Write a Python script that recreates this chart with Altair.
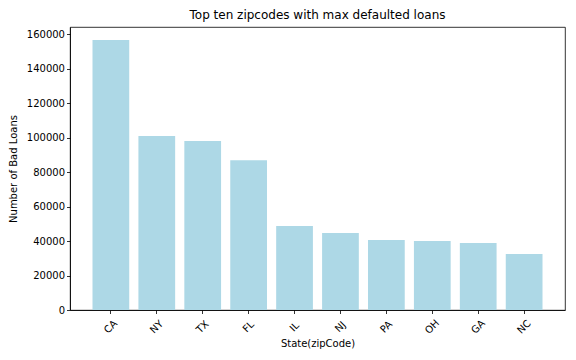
import altair as alt
import pandas as pd

states = ["CA", "NY", "TX", "FL", "IL", "NJ", "PA", "OH", "GA", "NC"]
bad_loans = [156700, 101000, 98100, 87000, 48700, 44700, 40600, 40000, 38900, 32500]
y_ticks = [0, 20000, 40000, 60000, 80000, 100000, 120000, 140000, 160000]

df = pd.DataFrame({"state": states, "count": bad_loans})

font = "DejaVu Sans"

chart = alt.Chart(df).mark_bar(color="#ADD8E6").encode(
    x=alt.X("state:N", sort=states,
            scale=alt.Scale(paddingInner=0.2, paddingOuter=0.49),
            axis=alt.Axis(title="State(zipCode)", labelAngle=-45, labelAlign="center",
                          labelBaseline="middle", labelPadding=13, titlePadding=3)),
    y=alt.Y("count:Q", scale=alt.Scale(domain=[0, 164300], nice=False, zero=True),
            axis=alt.Axis(title="Number of Bad Loans", values=y_ticks, format="d",
                          titlePadding=8)),
).properties(
    width=495, height=283,
    title=alt.Title("Top ten zipcodes with max defaulted loans", fontSize=12,
                    fontWeight="normal", font=font, color="black", offset=5),
    autosize=alt.AutoSizeParams(type="none"),
    padding={"left": 62, "top": 19, "right": 3, "bottom": 42},
).configure_view(
    stroke="black", strokeWidth=0.8
).configure_axis(
    grid=False, domainColor="black", domainWidth=0.8, tickColor="black", tickWidth=0.8,
    tickSize=3.5, labelFont=font, labelFontSize=10, labelColor="black",
    titleFont=font, titleFontSize=10, titleFontWeight="normal", titleColor="black",
)

chart.save("out.html", embed_options={"renderer": "svg", "actions": False})
